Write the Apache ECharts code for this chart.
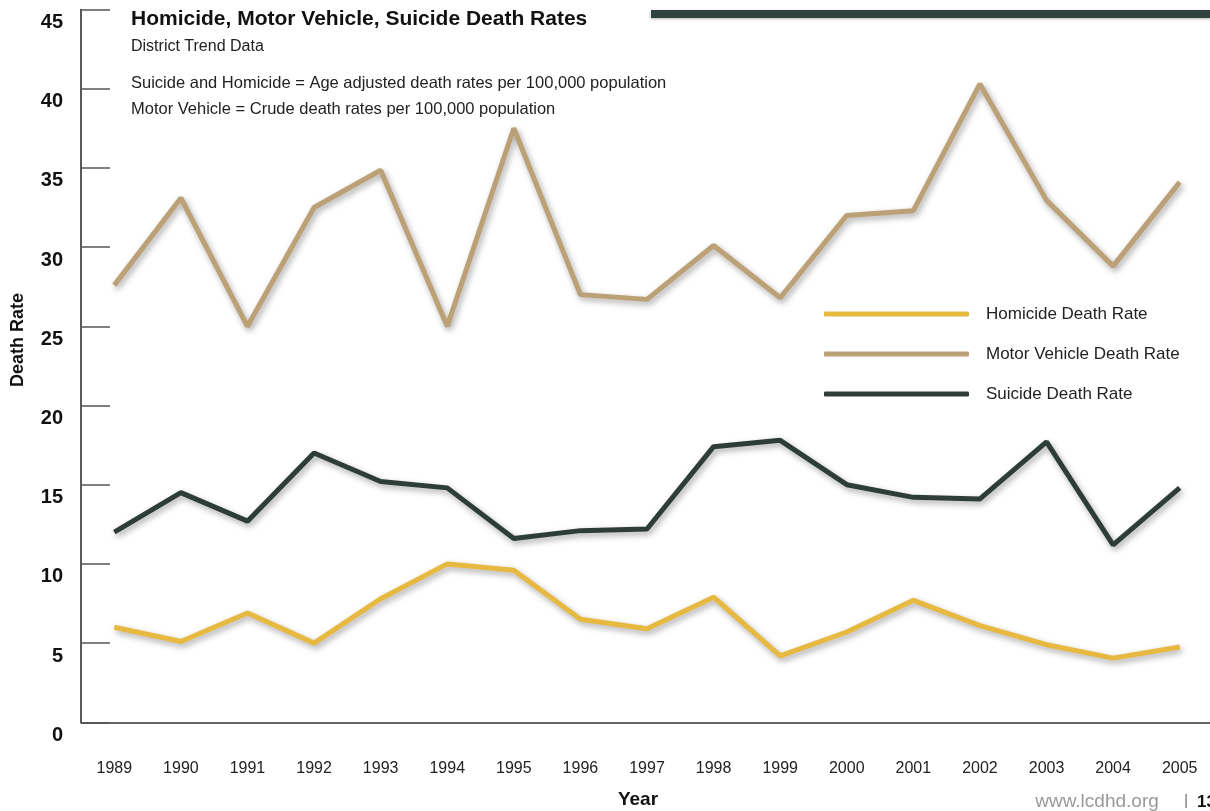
<!DOCTYPE html>
<html>
<head>
<meta charset="utf-8">
<title>Homicide, Motor Vehicle, Suicide Death Rates</title>
<script src="https://cdn.jsdelivr.net/npm/echarts@6/dist/echarts.min.js"></script>
<style>
  html, body { margin: 0; padding: 0; background: #fff; }
  #main { width: 1210px; height: 811px; }
</style>
</head>
<body>
<div id="main"></div>
<script type="text/javascript">
// years on the x axis
var years = ['1989', '1990', '1991', '1992', '1993', '1994', '1995', '1996', '1997',
             '1998', '1999', '2000', '2001', '2002', '2003', '2004', '2005'];

// rates per 100,000
var homicide = [6.0, 5.1, 6.9, 5.0, 7.8, 10.0, 9.6, 6.5, 5.9, 7.9, 4.2, 5.7, 7.7, 6.1, 4.9, 4.05, 4.75];
var motorVehicle = [27.6, 33.1, 25.0, 32.5, 34.85, 25.0, 37.5, 27.0, 26.7, 30.1, 26.8, 32.0, 32.3, 40.3, 32.95, 28.8, 34.1];
var suicide = [12.0, 14.5, 12.7, 17.0, 15.2, 14.8, 11.6, 12.1, 12.2, 17.4, 17.8, 15.0, 14.2, 14.1, 17.7, 11.2, 14.8];

var seriesNames = ['Homicide Death Rate', 'Motor Vehicle Death Rate', 'Suicide Death Rate'];
var colors = ['#e8b940', '#bca076', '#2e3d3a'];

var font = "'Liberation Sans', Arial, sans-serif";
var narrow = "'Liberation Sans Narrow', 'Liberation Sans', Arial, sans-serif";

var chart = echarts.init(document.getElementById('main'));

function lineSeries(name, data, color) {
    return {
        name: name,
        type: 'line',
        data: data,
        showSymbol: false,
        symbol: 'none',
        animation: false,
        itemStyle: { color: color },
        lineStyle: {
            color: color,
            width: 5,
            shadowColor: 'rgba(0,0,0,0.35)',
            shadowBlur: 6,
            shadowOffsetX: 2,
            shadowOffsetY: 3
        }
    };
}

var option = {
    backgroundColor: '#fff',
    animation: false,
    grid: {
        left: 81,
        top: 9.5,
        right: -3,
        bottom: 88.7,
        containLabel: false,
        outerBoundsMode: 'none'
    },
    legend: {
        orient: 'vertical',
        left: 819,
        top: 299,
        itemWidth: 145,
        itemHeight: 5,
        itemGap: 20,
        icon: 'roundRect',
        data: seriesNames,
        textStyle: {
            fontFamily: font,
            fontSize: 17,
            color: '#222',
            lineHeight: 20,
            padding: [0, 0, 0, 12]
        }
    },
    xAxis: {
        type: 'category',
        data: years,
        boundaryGap: true,
        axisLine: { lineStyle: { color: '#333', width: 1.5 } },
        axisTick: {
            inside: true,
            length: 17,
            interval: 0,
            lineStyle: { color: '#555', width: 1.5 }
        },
        axisLabel: {
            interval: 0,
            margin: 38,
            fontFamily: font,
            fontSize: 16,
            color: '#222'
        },
        splitLine: { show: false }
    },
    yAxis: {
        type: 'value',
        min: 0,
        max: 45,
        interval: 5,
        axisLine: { show: true, lineStyle: { color: '#222', width: 1.5 } },
        axisTick: {
            show: true,
            inside: true,
            length: 29,
            lineStyle: { color: '#555', width: 1.5 }
        },
        axisLabel: {
            margin: 18,
            fontFamily: font,
            fontSize: 20,
            fontWeight: 'bold',
            color: '#111',
            verticalAlign: 'top',
            lineHeight: 26
        },
        splitLine: { show: false }
    },
    series: [
        lineSeries(seriesNames[0], homicide, colors[0]),
        lineSeries(seriesNames[1], motorVehicle, colors[1]),
        lineSeries(seriesNames[2], suicide, colors[2])
    ],
    graphic: [
        {
            type: 'rect',
            shape: { x: 651, y: 10, width: 570, height: 8 },
            style: { fill: '#2f4240', shadowColor: 'rgba(0,0,0,0.3)', shadowBlur: 3, shadowOffsetY: 1 }
        },
        {
            type: 'text',
            style: { text: 'Homicide, Motor Vehicle, Suicide Death Rates', x: 131, y: 19,
                     fontFamily: narrow, fontSize: 21, fontWeight: 'bold', fill: '#111',
                     textAlign: 'left', textVerticalAlign: 'middle' }
        },
        {
            type: 'text',
            style: { text: 'District Trend Data', x: 131, y: 47,
                     fontFamily: font, fontSize: 16, fill: '#222',
                     textAlign: 'left', textVerticalAlign: 'middle' }
        },
        {
            type: 'text',
            style: { text: 'Suicide and Homicide = Age adjusted death rates per 100,000 population', x: 131, y: 83,
                     fontFamily: font, fontSize: 16.5, fill: '#222',
                     textAlign: 'left', textVerticalAlign: 'middle' }
        },
        {
            type: 'text',
            style: { text: 'Motor Vehicle = Crude death rates per 100,000 population', x: 131, y: 109,
                     fontFamily: font, fontSize: 16.5, fill: '#222',
                     textAlign: 'left', textVerticalAlign: 'middle' }
        },
        {
            type: 'text',
            rotation: Math.PI / 2,
            x: 18,
            y: 340,
            style: { text: 'Death Rate', x: 0, y: 0,
                     fontFamily: font, fontSize: 18, fontWeight: 'bold', fill: '#111',
                     textAlign: 'center', textVerticalAlign: 'middle' }
        },
        {
            type: 'text',
            style: { text: 'Year', x: 638, y: 800,
                     fontFamily: font, fontSize: 19, fontWeight: 'bold', fill: '#111',
                     textAlign: 'center', textVerticalAlign: 'middle' }
        },
        {
            type: 'text',
            style: { text: 'www.lcdhd.org', x: 1097, y: 802,
                     fontFamily: font, fontSize: 19, fill: '#999',
                     textAlign: 'center', textVerticalAlign: 'middle' }
        },
        {
            type: 'text',
            style: { text: '|', x: 1186, y: 801,
                     fontFamily: font, fontSize: 14, fill: '#666',
                     textAlign: 'center', textVerticalAlign: 'middle' }
        },
        {
            type: 'text',
            style: { text: '13', x: 1197, y: 802,
                     fontFamily: font, fontSize: 17, fontWeight: 'bold', fill: '#111',
                     textAlign: 'left', textVerticalAlign: 'middle' }
        }
    ]
};

chart.setOption(option);
</script>
</body>
</html>
